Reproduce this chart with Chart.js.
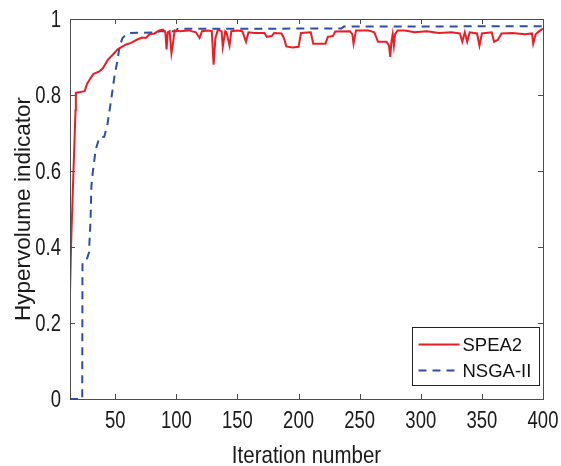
<!DOCTYPE html>
<html>
<head>
<meta charset="utf-8">
<script src="https://cdn.jsdelivr.net/npm/chart.js@4.4.1/dist/chart.umd.min.js"></script>
<style>
  html, body { margin:0; padding:0; background:#fff; }
  canvas { display:block; }
</style>
</head>
<body>
<canvas id="hv" width="561" height="466"></canvas>
<script>
// valores
const xTicks = [50, 100, 150, 200, 250, 300, 350, 400];
const yTicks = [0, 0.2, 0.4, 0.6, 0.8, 1];
const seriesNames = ['SPEA2', 'NSGA-II'];

const speaIter = [13, 14, 17.5, 17.8, 25, 27, 29, 32, 37, 40, 44, 48, 52, 56, 59, 63, 68, 72, 75, 78, 82, 86, 89, 91, 92, 93, 94.5, 96, 97, 98.6,
  103, 110, 116, 119, 121, 126, 129, 130.5, 132, 134, 137, 138, 140, 141, 143.5, 145, 150, 154, 157, 159, 164, 172, 174, 178, 180, 186, 188,
  190, 195, 200, 202, 210, 212, 222, 224, 228, 230, 242, 244, 245, 247, 257, 262, 265, 272, 274, 275, 276, 277, 278, 279, 281, 287, 295,
  305, 315, 325, 332, 334, 336, 338, 340, 346, 348, 350, 358, 360, 363, 366, 375, 385, 391, 392, 394, 397, 400];
const speaHv = [0.28, 0.42, 0.76, 0.806, 0.81, 0.83, 0.84, 0.855, 0.862, 0.871, 0.893, 0.906, 0.92, 0.928, 0.933, 0.937, 0.946, 0.951, 0.95, 0.96, 0.962, 0.97, 0.972, 0.965, 0.92, 0.965, 0.968, 0.91, 0.93, 0.97,
  0.968, 0.97, 0.965, 0.95, 0.968, 0.97, 0.968, 0.88, 0.95, 0.972, 0.968, 0.927, 0.968, 0.965, 0.93, 0.968, 0.97, 0.968, 0.94, 0.965, 0.963, 0.963, 0.953, 0.955, 0.963, 0.962, 0.95,
  0.928, 0.925, 0.927, 0.963, 0.965, 0.935, 0.935, 0.953, 0.955, 0.967, 0.968, 0.96, 0.935, 0.97, 0.97, 0.965, 0.94, 0.94, 0.93, 0.9, 0.94, 0.96, 0.93, 0.96, 0.97, 0.97, 0.965,
  0.968, 0.963, 0.965, 0.962, 0.94, 0.965, 0.94, 0.965, 0.962, 0.93, 0.962, 0.965, 0.94, 0.945, 0.962, 0.963, 0.96, 0.962, 0.935, 0.96, 0.968, 0.975];

const nsgaIter = [13, 23, 23.2, 27, 28.5, 29.8, 30.5, 31.6, 34, 37, 41, 43.5, 46.7, 49.4, 52, 53.5, 56, 59, 62, 85, 86, 100, 101, 235, 237, 400];
const nsgaHv = [0, 0, 0.36, 0.37, 0.385, 0.47, 0.56, 0.595, 0.656, 0.688, 0.69, 0.72, 0.788, 0.85, 0.893, 0.928, 0.95, 0.96, 0.963, 0.965, 0.968, 0.968, 0.974, 0.975, 0.98, 0.981];

const rojo = '#ee1c25';
const azul = '#2b4fa8';
const ejeColor = '#4d4d4d';
const fuente = '"Liberation Sans", Arial, sans-serif';

const pares = (xs, ys) => xs.map((x, i) => ({ x: x, y: ys[i] }));

// texto un poco estirado en vertical, como en la figura original
function textoAlto(ctx, txt, x, y, size, sy, align) {
  ctx.save();
  ctx.translate(x, y);
  ctx.scale(1, sy);
  ctx.font = size + 'px ' + fuente;
  ctx.textAlign = align;
  ctx.textBaseline = 'alphabetic';
  ctx.fillText(txt, 0, 0);
  ctx.restore();
}

// marco tipo matlab: caja, ticks hacia dentro, etiquetas y leyenda
const marcoPlugin = {
  id: 'marco',
  afterDraw: (chart) => {
    const { ctx, chartArea: a, scales } = chart;
    const tl = 5;
    ctx.save();
    ctx.strokeStyle = ejeColor; ctx.lineWidth = 1;
    ctx.strokeRect(a.left + 0.5, a.top + 0.5, a.right - a.left, a.bottom - a.top);
    ctx.beginPath();
    xTicks.forEach(v => {
      const px = Math.round(scales.x.getPixelForValue(v)) + 0.5;
      ctx.moveTo(px, a.bottom); ctx.lineTo(px, a.bottom - tl);
      ctx.moveTo(px, a.top); ctx.lineTo(px, a.top + tl);
    });
    yTicks.forEach(v => {
      const py = Math.round(scales.y.getPixelForValue(v)) + 0.5;
      ctx.moveTo(a.left, py); ctx.lineTo(a.left + tl, py);
      ctx.moveTo(a.right, py); ctx.lineTo(a.right - tl, py);
    });
    ctx.stroke();

    // etiquetas de los ejes
    ctx.fillStyle = '#1a1a1a';
    xTicks.forEach(v => textoAlto(ctx, String(v), scales.x.getPixelForValue(v), a.bottom + 29, 18.5, 1.27, 'center'));
    yTicks.forEach(v => textoAlto(ctx, String(v), a.left - 9, scales.y.getPixelForValue(v) + 8.3, 18.5, 1.27, 'right'));
    textoAlto(ctx, 'Iteration number', (a.left + a.right) / 2, 463, 20.5, 1.2, 'center');

    // leyenda
    const bx = 412.5, by = 327.5, bw = 127, bh = 58;
    ctx.fillStyle = '#fff';
    ctx.fillRect(bx, by, bw, bh);
    ctx.strokeStyle = '#222';
    ctx.strokeRect(bx, by, bw, bh);
    ctx.font = '18.5px ' + fuente;
    ctx.textBaseline = 'middle';
    ctx.textAlign = 'left';
    chart.data.datasets.forEach((ds, i) => {
      const y = by + 17 + i * 26;
      ctx.beginPath();
      ctx.strokeStyle = ds.borderColor;
      ctx.lineWidth = 2;
      ctx.setLineDash(ds.borderDash || []);
      ctx.moveTo(bx + 6, y); ctx.lineTo(bx + 47, y);
      ctx.stroke();
      ctx.setLineDash([]);
      ctx.fillStyle = '#111';
      ctx.fillText(ds.label, bx + 50, y + 1);
    });
    ctx.restore();
  }
};

new Chart(document.getElementById('hv'), {
  type: 'line',
  data: {
    datasets: [
      { label: seriesNames[0], data: pares(speaIter, speaHv), borderColor: rojo, borderWidth: 2, pointRadius: 0, tension: 0 },
      { label: seriesNames[1], data: pares(nsgaIter, nsgaHv), borderColor: azul, borderWidth: 2, borderDash: [8, 6], pointRadius: 0, tension: 0 }
    ]
  },
  options: {
    responsive: false,
    animation: false,
    devicePixelRatio: 1,
    layout: { padding: { top: 19, right: 18, left: 0, bottom: 0 } },
    plugins: { legend: { display: false }, tooltip: { enabled: false } },
    scales: {
      x: {
        type: 'linear', min: 13, max: 400,
        afterBuildTicks: (s) => { s.ticks = xTicks.map(v => ({ value: v })); },
        afterFit: (s) => { s.height = 67; },
        grid: { display: false }, border: { display: false },
        ticks: { display: false }
      },
      y: {
        min: 0, max: 1,
        afterBuildTicks: (s) => { s.ticks = yTicks.map(v => ({ value: v })); },
        afterFit: (s) => { s.width = 70; },
        grid: { display: false }, border: { display: false },
        ticks: { display: false },
        title: { display: true, text: 'Hypervolume indicator', color: '#1a1a1a', padding: { top: 10, bottom: 0 },
                 font: { family: fuente, size: 22.5 } }
      }
    }
  },
  plugins: [marcoPlugin]
});
</script>
</body>
</html>
